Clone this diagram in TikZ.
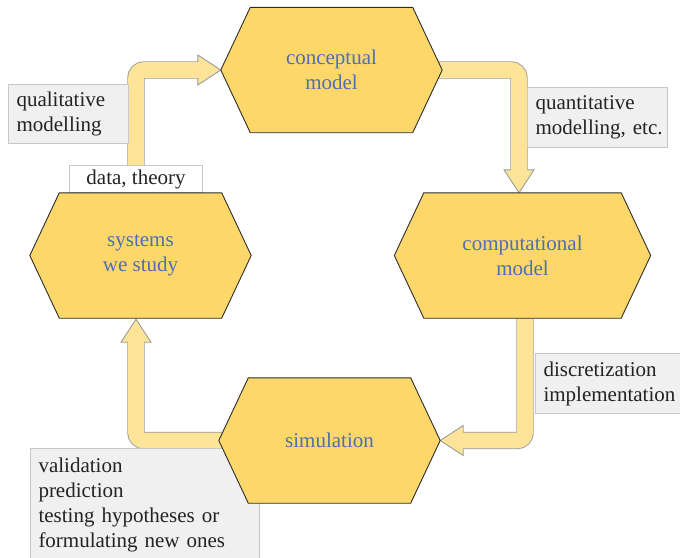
\documentclass[tikz,border=0pt]{standalone}
\usepackage{fontspec}
\setmainfont{Liberation Serif}
\newfontfamily\serifx{Liberation Serif}
\definecolor{hexfill}{RGB}{253,215,106}
\definecolor{hexline}{RGB}{45,45,45}
\definecolor{hextext}{RGB}{78,110,180}
\definecolor{arrowfill}{RGB}{254,228,152}
\definecolor{arrowline}{RGB}{155,155,155}
\definecolor{boxfill}{RGB}{240,240,240}
\definecolor{boxline}{RGB}{200,200,200}
\definecolor{boxtext}{RGB}{35,35,35}
\pgfdeclarelayer{arrl}
\pgfdeclarelayer{boxl}
\pgfdeclarelayer{hexl}
\pgfsetlayers{arrl,boxl,hexl,main}
\newcommand\hexof[1]{\filldraw[hexshape] (#1.west) -- ([xshift=29.5]#1.north west) -- ([xshift=-29.5]#1.north east) -- (#1.east) -- ([xshift=-29.5]#1.south east) -- ([xshift=29.5]#1.south west) -- cycle;}
\begin{document}
\begin{tikzpicture}[x=1pt,y=-1pt,
  txtfont/.style={font=\serifx\fontsize{21}{25}\selectfont},
  hexnode/.style={txtfont, minimum width=#1, minimum height=125, inner sep=0pt, align=center, text=hextext},
  hexshape/.style={fill=hexfill, draw=hexline, line width=0.9pt, line join=miter},
  shaftout/.style={draw=arrowline, line width=17.4pt, rounded corners=8pt},
  shaftin/.style={draw=arrowfill, line width=15.6pt, rounded corners=8pt},
  headst/.style={fill=arrowfill, draw=arrowline, line width=0.9pt, line join=miter},
  gbox/.style={txtfont, draw=boxline, fill=boxfill, line width=1pt, text=boxtext, align=left, inner xsep=8pt, inner ysep=0pt, anchor=north west},
  wbox/.style={txtfont, draw=boxline, fill=white, line width=1pt, text=boxtext, align=center, inner sep=0pt, anchor=north west}]
\useasboundingbox (0,0) rectangle (680,557);

% hexagon texts (main layer)
\node[hexnode=221] (con) at (331.5,70) {conceptual\\model};
\node[hexnode=221] (sys) at (140.5,255.5) {systems\\we study};
\node[hexnode=256] (comp) at (522.5,255.5) {computational\\model};
\node[hexnode=221] (sim) at (329.5,440.5) {simulation};

\begin{pgfonlayer}{hexl}
\hexof{con}
\hexof{sys}
\hexof{comp}
\hexof{sim}
\end{pgfonlayer}

\begin{pgfonlayer}{arrl}
% systems -> conceptual
\draw[shaftout] ([xshift=-4.5,yshift=-10]sys.north) |- ([xshift=-23]con.west);
\filldraw[headst] ([xshift=-23,yshift=15]con.west) -- (con.west) -- ([xshift=-23,yshift=-15]con.west) -- cycle;
\draw[shaftin] ([xshift=-4.5,yshift=-10]sys.north) |- ([xshift=-21]con.west);
% conceptual -> computational
\draw[shaftout] ([xshift=-10]con.east) -| ([xshift=-3.5,yshift=23]comp.north);
\filldraw[headst] ([xshift=-18.5,yshift=23]comp.north) -- ([xshift=-3.5]comp.north) -- ([xshift=11.5,yshift=23]comp.north) -- cycle;
\draw[shaftin] ([xshift=-10]con.east) -| ([xshift=-3.5,yshift=21]comp.north);
% computational -> simulation
\draw[shaftout] ([xshift=2.5,yshift=10]comp.south) |- ([xshift=23]sim.east);
\filldraw[headst] ([xshift=23,yshift=15]sim.east) -- (sim.east) -- ([xshift=23,yshift=-15]sim.east) -- cycle;
\draw[shaftin] ([xshift=2.5,yshift=10]comp.south) |- ([xshift=21]sim.east);
% simulation -> systems
\draw[shaftout] ([xshift=10]sim.west) -| ([xshift=-4.5,yshift=-24]sys.south);
\filldraw[headst] ([xshift=-19.5,yshift=-24]sys.south) -- ([xshift=-4.5,yshift=-1]sys.south) -- ([xshift=10.5,yshift=-24]sys.south) -- cycle;
\draw[shaftin] ([xshift=10]sim.west) -| ([xshift=-4.5,yshift=-22]sys.south);
\end{pgfonlayer}

\begin{pgfonlayer}{boxl}
\node[gbox, text width=104, minimum height=59] (qual) at (8,84) {qualitative\\modelling};
\node[wbox, minimum width=133, minimum height=27] (data) at (69,165) {data, theory};
\node[gbox, text width=124, minimum height=60] (quant) at (527,87) {quantitative\\\mbox{modelling, etc.}};
\node[gbox, text width=134, minimum height=60] (disc) at (535,353) {discretization\\\mbox{implementation}};
\node[gbox, text width=213, minimum height=112] (val) at (30,448) {validation\\prediction\\\mbox{testing hypotheses or}\\\mbox{formulating new ones}};
\end{pgfonlayer}
\end{tikzpicture}
\end{document}
